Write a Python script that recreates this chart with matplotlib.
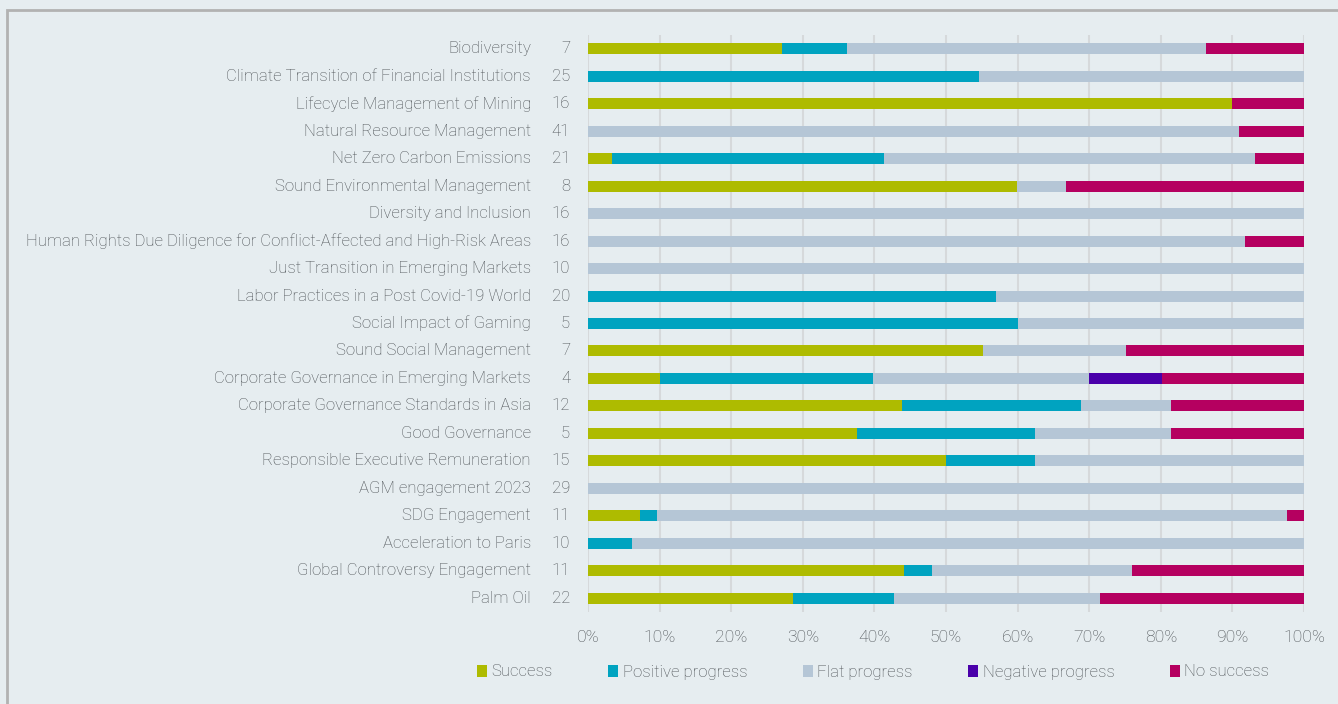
import matplotlib
matplotlib.use("Agg")
import matplotlib.pyplot as plt
from matplotlib.patches import Rectangle
import numpy as np

# themes, top to bottom
themes = [
    "Biodiversity",
    "Climate Transition of Financial Institutions",
    "Lifecycle Management of Mining",
    "Natural Resource Management",
    "Net Zero Carbon Emissions",
    "Sound Environmental Management",
    "Diversity and Inclusion",
    "Human Rights Due Diligence for Conflict-Affected and High-Risk Areas",
    "Just Transition in Emerging Markets",
    "Labor Practices in a Post Covid-19 World",
    "Social Impact of Gaming",
    "Sound Social Management",
    "Corporate Governance in Emerging Markets",
    "Corporate Governance Standards in Asia",
    "Good Governance",
    "Responsible Executive Remuneration",
    "AGM engagement 2023",
    "SDG Engagement",
    "Acceleration to Paris",
    "Global Controversy Engagement",
    "Palm Oil",
]
counts = [7, 25, 16, 41, 21, 8, 16, 16, 10, 20, 5, 7, 4, 12, 5, 15, 29, 11, 10, 11, 22]

# shares in percent
success  = [27.1, 0, 90.0, 0, 3.3, 59.9, 0, 0, 0, 0, 0, 55.1, 10.0, 43.9, 37.5, 50.0, 0, 7.2, 0, 44.1, 28.6]
positive = [9.1, 54.6, 0, 0, 38.1, 0, 0, 0, 0, 57.0, 60.0, 0, 29.8, 25.0, 24.9, 12.4, 0, 2.4, 6.2, 3.9, 14.2]
flat     = [50.1, 45.4, 0, 90.9, 51.8, 6.8, 100, 91.8, 100, 43.0, 40.0, 20.0, 30.2, 12.5, 19.0, 37.6, 100, 88.0, 93.8, 28.0, 28.7]
negative = [0, 0, 0, 0, 0, 0, 0, 0, 0, 0, 0, 0, 10.2, 0, 0, 0, 0, 0, 0, 0, 0]
no_succ  = [13.7, 0, 10.0, 9.1, 6.8, 33.3, 0, 8.2, 0, 0, 0, 24.9, 19.8, 18.6, 18.6, 0, 0, 2.4, 0, 24.0, 28.5]

series = ["Success", "Positive progress", "Flat progress", "Negative progress", "No success"]
colors = ["#aebb00", "#00a3c0", "#b5c6d6", "#4a00aa", "#b50060"]

bg = "#e6edf0"
txt = "#4a4f53"
font = "Roboto"
fs = 12.1

fig = plt.figure(figsize=(13.38, 7.04), dpi=100, facecolor=bg)
ax = fig.add_axes([588 / 1338, 92 / 704, 716 / 1338, 577 / 704])
ax.set_facecolor(bg)

# frame line on top and left of the panel
fig.patches.append(Rectangle((7 / 1338, -0.1), 1.2, (704 - 10) / 704 + 0.1,
                             transform=fig.transFigure, fill=False,
                             edgecolor="#b2b2b2", linewidth=2, zorder=0))

y = np.arange(len(themes))
left = np.zeros(len(themes))
for vals, name, c in zip([success, positive, flat, negative, no_succ], series, colors):
    vals = np.array(vals, dtype=float)
    ax.barh(y, vals, left=left, height=0.4, color=c, label=name, zorder=3)
    left += vals

ax.set_xlim(0, 100)
ax.set_ylim(len(themes) - 0.5, -0.5)
ax.set_xticks(np.arange(0, 101, 10))
ax.set_xticklabels([f"{v}%" for v in range(0, 101, 10)], fontsize=12.6,
                   color=txt, family=font, fontweight="light")
ax.tick_params(axis="x", length=0, pad=13)
ax.set_yticks([])
ax.grid(axis="x", color="#d6d9db", linewidth=1.5, zorder=0)
for s in ax.spines.values():
    s.set_visible(False)

for i, (t, n) in enumerate(zip(themes, counts)):
    ax.text(-57 / 716, i, t, transform=ax.get_yaxis_transform(), ha="right",
            va="center", fontsize=fs, color=txt, family=font, fontweight="light")
    ax.text(-18 / 716, i, str(n), transform=ax.get_yaxis_transform(), ha="right",
            va="center", fontsize=fs, color=txt, family=font, fontweight="light")

leg = fig.legend(loc="center", bbox_to_anchor=(873 / 1338, 1 - 672 / 704), ncol=5,
                 frameon=False, handlelength=0.62, handleheight=0.72,
                 handletextpad=0.25, columnspacing=3.3,
                 prop={"family": font, "size": fs, "weight": "light"})
for t in leg.get_texts():
    t.set_color(txt)

fig.savefig("out.png", dpi=100, facecolor=bg)
